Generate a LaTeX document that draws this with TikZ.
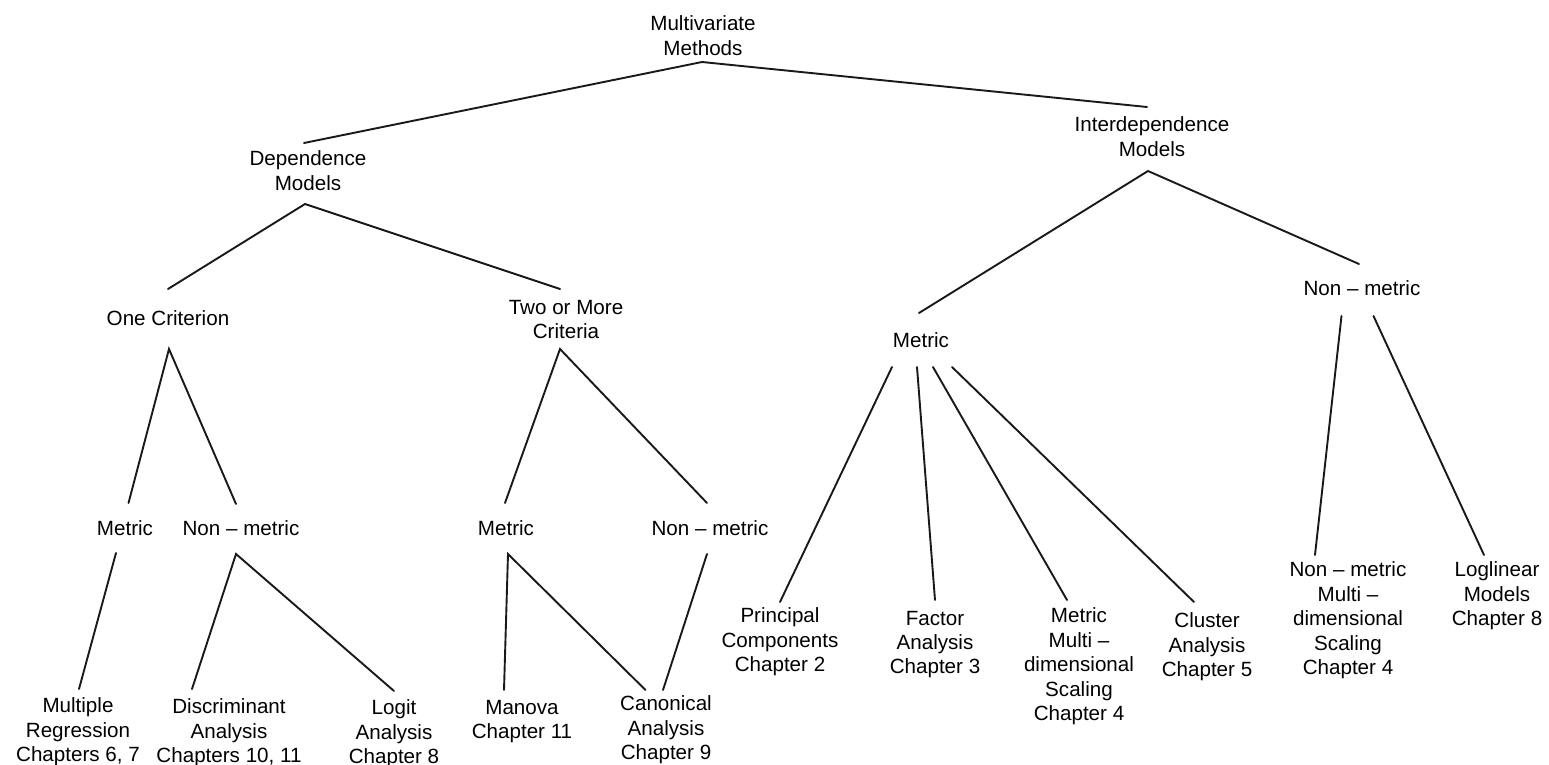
\documentclass[tikz,border=0pt]{standalone}
\usepackage{fontspec}
\setmainfont{Liberation Sans}

\begin{document}
\begin{tikzpicture}[
      x=0.5pt, y=-0.5pt,
      term/.style={anchor=north, inner sep=0pt, align=center, font=\fontsize{10.3}{12.2}\selectfont},
      branch/.style={line width=0.95pt, line cap=round, color=black!90}
    ]
      \useasboundingbox (0,0) rectangle (1549,765);
      % top levels
      \node[term] (mm) at (703,15.5) {Multivariate\\Methods};
      \node[term] (dm) at (308,150.5) {Dependence\\Models};
      \node[term] (im) at (1152,116.5) {Interdependence\\Models};
      \node[term] (oc) at (168,310.5) {One Criterion};
      \node[term] (tm) at (566,299.5) {Two or More\\Criteria};
      \node[term] (imet) at (921,332.5) {Metric};
      \node[term] (inon) at (1362,280.5) {Non -- metric};
      \node[term] (met1) at (125,520.5) {Metric};
      \node[term] (non1) at (241,520.5) {Non -- metric};
      \node[term] (met2) at (506,520.5) {Metric};
      \node[term] (non2) at (710,520.5) {Non -- metric};
      % methods
      \node[term] (mr) at (78,697.5) {Multiple\\Regression\\Chapters 6, 7};
      \node[term] (da) at (229,698.5) {Discriminant\\Analysis\\Chapters 10, 11};
      \node[term] (la) at (394,699.5) {Logit\\Analysis\\Chapter 8};
      \node[term] (mn) at (522,699.5) {Manova\\Chapter 11};
      \node[term] (ca) at (666,695.5) {Canonical\\Analysis\\Chapter 9};
      \node[term] (pc) at (780,607.5) {Principal\\Components\\Chapter 2};
      \node[term] (fa) at (935,610.5) {Factor\\Analysis\\Chapter 3};
      \node[term] (mmds) at (1079,607.5) {Metric\\Multi --\\dimensional\\Scaling\\Chapter 4};
      \node[term] (cl) at (1207,612.5) {Cluster\\Analysis\\Chapter 5};
      \node[term] (nmds) at (1348,561.5) {Non -- metric\\Multi --\\dimensional\\Scaling\\Chapter 4};
      \node[term] (ll) at (1497,561.5) {Loglinear\\Models\\Chapter 8};
      % line ends
      \coordinate (mm-b) at (702,62);
      \coordinate (dm-t) at (304,143);
      \coordinate (dm-b) at (305,204);
      \coordinate (im-t) at (1147,107);
      \coordinate (im-b) at (1148,171);
      \coordinate (oc-t) at (168,289);
      \coordinate (oc-b) at (169,349);
      \coordinate (tm-t) at (560,289);
      \coordinate (tm-b) at (560,349);
      \coordinate (imet-t) at (919,313);
      \coordinate (imet-b1) at (892,367);
      \coordinate (imet-b2) at (917,367);
      \coordinate (imet-b3) at (933,367);
      \coordinate (imet-b4) at (952,367);
      \coordinate (inon-t) at (1359,264);
      \coordinate (inon-b1) at (1341.5,316);
      \coordinate (inon-b2) at (1373.5,316);
      \coordinate (met1-t) at (128.5,503);
      \coordinate (met1-b) at (116,553);
      \coordinate (non1-t) at (236,504);
      \coordinate (non1-b) at (236,554);
      \coordinate (met2-t) at (505,503);
      \coordinate (met2-b) at (508,554);
      \coordinate (non2-t) at (707,503);
      \coordinate (non2-b) at (707,554);
      \coordinate (mr-t) at (79,689);
      \coordinate (da-t) at (192,689);
      \coordinate (la-t) at (394,691);
      \coordinate (mn-t) at (504,690);
      \coordinate (ca-t) at (645.5,690);
      \coordinate (ca-tr) at (663,690);
      \coordinate (pc-t) at (780,602);
      \coordinate (fa-t) at (935,600);
      \coordinate (mmds-t) at (1067,600);
      \coordinate (cl-t) at (1194,602);
      \coordinate (nmds-t) at (1315,555);
      \coordinate (ll-t) at (1484,555);
      % branches
      \draw[branch] (dm-t) -- (mm-b) -- (im-t);
      \draw[branch] (oc-t) -- (dm-b) -- (tm-t);
      \draw[branch] (imet-t) -- (im-b) -- (inon-t);
      \draw[branch] (met1-t) -- (oc-b) -- (non1-t);
      \draw[branch] (met2-t) -- (tm-b) -- (non2-t);
      \draw[branch] (met1-b) -- (mr-t);
      \draw[branch] (da-t) -- (non1-b) -- (la-t);
      \draw[branch] (mn-t) -- (met2-b) -- (ca-t);
      \draw[branch] (non2-b) -- (ca-tr);
      \draw[branch] (imet-b1) -- (pc-t);
      \draw[branch] (imet-b2) -- (fa-t);
      \draw[branch] (imet-b3) -- (mmds-t);
      \draw[branch] (imet-b4) -- (cl-t);
      \draw[branch] (inon-b1) -- (nmds-t);
      \draw[branch] (inon-b2) -- (ll-t);
    \end{tikzpicture}
\end{document}
